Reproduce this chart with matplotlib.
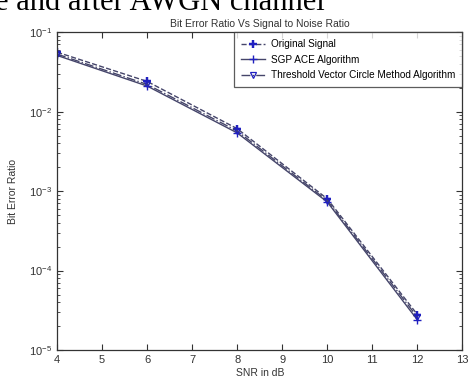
import matplotlib.pyplot as plt
from matplotlib.ticker import LogLocator, NullFormatter

snr = [4, 6, 8, 10, 12]
ber_original = [0.056, 0.024, 0.0061, 0.00080, 2.8e-5]
ber_sgp = [0.051, 0.021, 0.0054, 0.00073, 2.4e-5]
ber_tvcm = [0.053, 0.022, 0.0057, 0.00076, 2.6e-5]

labels = ['Original Signal', 'SGP ACE Algorithm',
          'Threshold Vector Circle Method Algorithm']

plt.rcParams['font.family'] = ['Liberation Sans', 'DejaVu Sans']

fig = plt.figure(figsize=(4.68, 3.83), dpi=100)
ax = fig.add_axes([0.122, 0.086, 0.866, 0.830])

line_col = '#45456a'
mk_col = '#2020c0'
ax.semilogy(snr, ber_original, '--', color=line_col, lw=1.0,
            marker=(4, 2, 0), ms=6, mec=mk_col, mfc=mk_col, mew=1.6,
            label=labels[0])
ax.semilogy(snr, ber_sgp, '-', color=line_col, lw=1.0,
            marker='+', ms=6, mec=mk_col, mew=1.0, label=labels[1])
ax.semilogy(snr, ber_tvcm, '-.', color=line_col, lw=1.0,
            marker='v', ms=5, mec=mk_col, mfc='none', mew=0.9,
            label=labels[2])

ax.set_xlim(4, 13)
ax.set_ylim(1e-5, 1e-1)
ax.set_xticks(range(4, 14))
ax.yaxis.set_minor_locator(LogLocator(base=10, subs=range(2, 10)))
ax.yaxis.set_minor_formatter(NullFormatter())
ax.tick_params(which='both', direction='in', top=True, right=True,
               labelsize=8, colors='#333333')
ax.tick_params(which='major', length=4)
ax.tick_params(which='minor', length=2)
for s in ax.spines.values():
    s.set_linewidth(0.9)
    s.set_color('#333333')

ax.set_title('Bit Error Ratio Vs Signal to Noise Ratio', fontsize=7.5,
             color='#333333', pad=4)
ax.set_xlabel('SNR in dB', fontsize=7.5, color='#333333', labelpad=2)
ax.set_ylabel('Bit Error Ratio', fontsize=7.5, color='#333333', labelpad=8)

leg = ax.legend(loc='upper right', fontsize=7.2, frameon=True, fancybox=False,
                borderaxespad=0, handlelength=2.4, labelspacing=0.55,
                borderpad=0.7, handletextpad=0.6)
leg.get_frame().set_edgecolor('#333333')
leg.get_frame().set_linewidth(0.9)

fig.text(-0.01, 0.975, 'e and after AWGN channel', fontsize=22,
         family='Liberation Serif', ha='left', va='baseline')

fig.savefig('out.png', dpi=100)
